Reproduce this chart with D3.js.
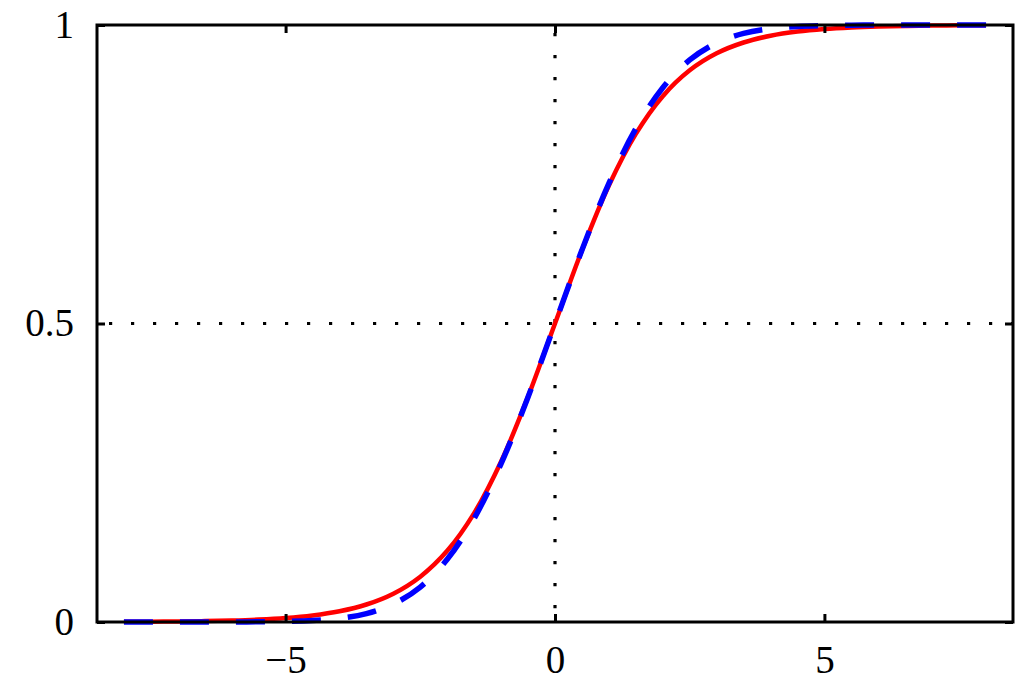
<!DOCTYPE html>
<html><head><meta charset="utf-8">
<script src="https://cdn.jsdelivr.net/npm/d3@7"></script>
<style>body{margin:0;background:#fff}svg{display:block}</style>
</head><body><svg id="c" width="1022" height="697"></svg>
<script>
const xValues = [-8,-7.5,-7,-6.5,-6,-5.5,-5,-4.5,-4,-3.5,-3,-2.5,-2,-1.5,-1,-0.5,0,0.5,1,1.5,2,2.5,3,3.5,4,4.5,5,5.5,6,6.5,7,7.5,8];
const logisticValues = [0.0003,0.0006,0.0009,0.0015,0.0025,0.0041,0.0067,0.011,0.018,0.0293,0.0474,0.0759,0.1192,0.1824,0.2689,0.3775,0.5,0.6225,0.7311,0.8176,0.8808,0.9241,0.9526,0.9707,0.982,0.989,0.9933,0.9959,0.9975,0.9985,0.9991,0.9994,0.9997];
const probitValues = [0,0,0,0,0.0001,0.0003,0.0009,0.0024,0.0061,0.0141,0.03,0.0586,0.105,0.1736,0.2654,0.377,0.5,0.623,0.7346,0.8264,0.895,0.9414,0.97,0.9859,0.9939,0.9976,0.9991,0.9997,0.9999,1,1,1,1];
const xTicks = [-5,0,5];
const yTicks = [0,0.5,1];
const yTickLabels = ["0","0.5","1"];

const svg = d3.select("#c");
const m = {l:97,t:25,r:9,b:75};
const W = 1022, H = 697;
const x = d3.scaleLinear().domain([-8.5,8.5]).range([m.l, W-m.r]);
const y = d3.scaleLinear().domain([0,1]).range([H-m.b, m.t]);
const font = "'Liberation Serif','Times New Roman',serif";

// reference dotted lines
svg.append("line").attr("x1",x(0)).attr("x2",x(0)).attr("y1",y(1)).attr("y2",y(0))
  .attr("stroke","#000").attr("stroke-width",3.2).attr("stroke-dasharray","3.2,18.8").attr("stroke-dashoffset",-8);
svg.append("line").attr("x1",x(-8.5)).attr("x2",x(8.5)).attr("y1",y(0.5)).attr("y2",y(0.5))
  .attr("stroke","#000").attr("stroke-width",3.2).attr("stroke-dasharray","3.2,18.8").attr("stroke-dashoffset",-12);

const line = d3.line().x((d,i)=>x(xValues[i])).y(d=>y(d)).curve(d3.curveCatmullRom);
svg.append("path").datum(logisticValues).attr("d",line).attr("fill","none")
  .attr("stroke","#ff0000").attr("stroke-width",4.5);
svg.append("path").datum(probitValues).attr("d",line).attr("fill","none")
  .attr("stroke","#0000ff").attr("stroke-width",5.5).attr("stroke-dasharray","29,27");

// axes
const tl = 8;
const ax = (g)=>g.selectAll("text").attr("font-family",font).attr("font-size",39).attr("fill","#000");
svg.append("g").attr("transform",`translate(0,${H-m.b})`)
  .call(d3.axisBottom(x).tickValues(xTicks).tickSize(-tl).tickPadding(23).tickFormat(d=>d<0?"\u2212"+Math.abs(d):d))
  .call(g=>{g.select(".domain").remove();g.selectAll("line").attr("stroke","#000").attr("stroke-width",3);ax(g);});
svg.append("g").attr("transform",`translate(0,${m.t})`)
  .call(d3.axisTop(x).tickValues(xTicks).tickSize(-tl).tickFormat(""))
  .call(g=>{g.select(".domain").remove();g.selectAll("line").attr("stroke","#000").attr("stroke-width",3);});
svg.append("g").attr("transform",`translate(${m.l},0)`)
  .call(d3.axisLeft(y).tickValues(yTicks).tickSize(-tl).tickPadding(23).tickFormat((d,i)=>yTickLabels[i]))
  .call(g=>{g.select(".domain").remove();g.selectAll("line").attr("stroke","#000").attr("stroke-width",3);ax(g);});
svg.append("g").attr("transform",`translate(${W-m.r},0)`)
  .call(d3.axisRight(y).tickValues(yTicks).tickSize(-tl).tickFormat(""))
  .call(g=>{g.select(".domain").remove();g.selectAll("line").attr("stroke","#000").attr("stroke-width",3);});

svg.append("rect").attr("x",m.l).attr("y",m.t).attr("width",W-m.l-m.r).attr("height",H-m.t-m.b)
  .attr("fill","none").attr("stroke","#000").attr("stroke-width",3);
</script></body></html>
